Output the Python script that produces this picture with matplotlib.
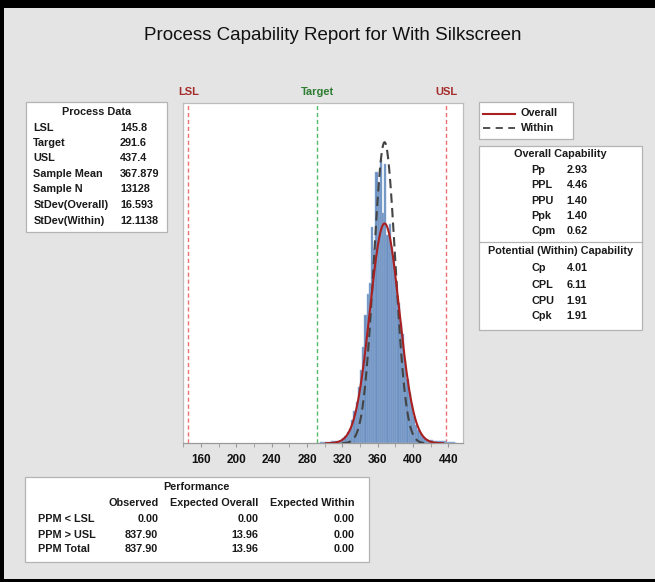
import numpy as np
import matplotlib
matplotlib.use("Agg")
import matplotlib.pyplot as plt
from matplotlib.patches import Rectangle
from matplotlib.lines import Line2D

# ---------------- data ----------------
title = "Process Capability Report for With Silkscreen"
LSL, TARGET, USL = 145.8, 291.6, 437.4
sample_mean = 367.879
sd_overall = 16.593
sd_within = 12.1138

process_labels = ["LSL", "Target", "USL", "Sample Mean", "Sample N", "StDev(Overall)", "StDev(Within)"]
process_values = ["145.8", "291.6", "437.4", "367.879", "13128", "16.593", "12.1138"]

overall_labels = ["Pp", "PPL", "PPU", "Ppk", "Cpm"]
overall_values = ["2.93", "4.46", "1.40", "1.40", "0.62"]
within_labels = ["Cp", "CPL", "CPU", "Cpk"]
within_values = ["4.01", "6.11", "1.91", "1.91"]

perf_columns = ["Observed", "Expected Overall", "Expected Within"]
perf_rows = ["PPM < LSL", "PPM > USL", "PPM Total"]
perf_observed = ["0.00", "837.90", "837.90"]
perf_exp_overall = ["0.00", "13.96", "13.96"]
perf_exp_within = ["0.00", "0.00", "0.00"]

# histogram (bin width 2.5, first edge 295) densities
bin_start = 295.0
bin_width = 2.5
bin_density = [
    0.0001, 0.0001, 0.0001, 0.0001, 0.0001, 0.0002, 0.0002, 0.0002,
    0.0003, 0.0004, 0.0006, 0.0008, 0.0012, 0.0016, 0.0025, 0.0035,
    0.0045, 0.0062, 0.0080, 0.0105, 0.0140, 0.0163, 0.0175, 0.0237,
    0.0212, 0.0297, 0.0285, 0.0310, 0.0252, 0.0305, 0.0228, 0.0240,
    0.0215, 0.0206, 0.0178, 0.0153, 0.0132, 0.0120, 0.0090, 0.0070,
    0.0055, 0.0042, 0.0030, 0.0020, 0.0014, 0.0011, 0.0008, 0.0006,
    0.0005, 0.0004, 0.0004, 0.0003, 0.0003, 0.0002, 0.0003, 0.0002,
    0.0002, 0.0001, 0.0001, 0.0001, 0.0001, 0.00005,
]
x_ticks = [160, 200, 240, 280, 320, 360, 400, 440]

# ---------------- layout ----------------
W, H = 655, 582
plt.rcParams['font.family'] = ['Liberation Sans', 'DejaVu Sans']
fig = plt.figure(figsize=(W / 100, H / 100), dpi=100, facecolor="#e4e4e4")

def fx(px):
    return px / W

def fy(py):
    return 1 - py / H

def ftext(px, py, s, **kw):
    kw.setdefault("fontsize", 7.8)
    kw.setdefault("va", "center")
    kw.setdefault("color", "#1a1a1a")
    kw.setdefault("fontweight", "bold")
    fig.text(fx(px), fy(py), s, **kw)

def fbox(x0, y0, x1, y1):
    fig.add_artist(Rectangle((fx(x0), fy(y1)), fx(x1) - fx(x0), fy(y0) - fy(y1),
                             transform=fig.transFigure, facecolor="white",
                             edgecolor="#b4b4b4", lw=0.9, zorder=1))

# black border bands
fig.add_artist(Rectangle((0, fy(8)), 1, 8 / H, transform=fig.transFigure, color="black", lw=0))
fig.add_artist(Rectangle((0, 0), 4 / W, 1, transform=fig.transFigure, color="black", lw=0))
fig.add_artist(Rectangle((0, 0), 1, 3 / H, transform=fig.transFigure, color="black", lw=0))

# title
ftext(333, 35, title, ha="center", fontsize=13.5, fontweight="normal", color="#111111")

# main axes
ax_l, ax_r, ax_t, ax_b = 183.3, 463.3, 102.7, 443.3
ax = fig.add_axes([fx(ax_l), fy(ax_b), fx(ax_r) - fx(ax_l), fy(ax_t) - fy(ax_b)])
ax.set_facecolor("white")
edges = bin_start + bin_width * np.arange(len(bin_density))
ax.bar(edges, bin_density, width=bin_width, align="edge",
       facecolor="#6a8fc2", edgecolor="#9fb6d6", linewidth=0.35, zorder=2)

xo = np.linspace(sample_mean - 4 * sd_overall, sample_mean + 4 * sd_overall, 400)
yo = np.exp(-0.5 * ((xo - sample_mean) / sd_overall) ** 2) / (sd_overall * np.sqrt(2 * np.pi))
xw = np.linspace(sample_mean - 4 * sd_within, sample_mean + 4 * sd_within, 400)
yw = np.exp(-0.5 * ((xw - sample_mean) / sd_within) ** 2) / (sd_within * np.sqrt(2 * np.pi))
ax.plot(xw, yw, color="#444444", lw=1.5, ls=(0, (4.5, 2.5)), zorder=3)
ax.plot(xo, yo, color="#a82020", lw=1.5, zorder=4)

ax.axvline(LSL, color="#ee7070", lw=1.0, ls=(0, (3, 2)), zorder=1)
ax.axvline(USL, color="#ee7070", lw=1.0, ls=(0, (3, 2)), zorder=1)
ax.axvline(TARGET, color="#55bb66", lw=1.0, ls=(0, (3, 2)), zorder=1)

ax.set_xlim(140.1, 457.0)
ax.set_ylim(0, 0.03725)
ax.set_yticks([])
ax.set_xticks(x_ticks)
ax.set_xticks(np.arange(140, 460, 20), minor=True)
ax.tick_params(axis="x", which="both", length=3, color="#999999", labelsize=8.5, pad=5, labelcolor="#111111")
for lbl in ax.get_xticklabels():
    lbl.set_fontweight("bold")
for sp in ax.spines.values():
    sp.set_color("#bdbdbd")
    sp.set_linewidth(0.9)
ax.spines["bottom"].set_color("#999999")

# spec labels above axes
for val, lab, col in [(LSL, "LSL", "#a52a2a"), (TARGET, "Target", "#2e7d32"), (USL, "USL", "#a52a2a")]:
    px = ax_l + (val - 140.1) / (457.0 - 140.1) * (ax_r - ax_l)
    ftext(px, 92, lab, ha="center", color=col, fontsize=8)

# Process data box
fbox(26, 101.7, 166.7, 231.7)
ftext(96.7, 111.7, "Process Data", ha="center")
rows_y = [127.7, 143.3, 157.7, 174, 189.3, 205, 221]
for yy, lab, val in zip(rows_y, process_labels, process_values):
    ftext(33.3, yy, lab)
    ftext(120, yy, val)

# legend box
fbox(479.3, 102.3, 572.7, 139.3)
fig.add_artist(Line2D([fx(483), fx(515)], [fy(114.3), fy(114.3)], transform=fig.transFigure,
                      color="#a82020", lw=1.5))
fig.add_artist(Line2D([fx(483), fx(515)], [fy(128.3), fy(128.3)], transform=fig.transFigure,
                      color="#444444", lw=1.3, ls=(0, (4, 3))))
ftext(520.7, 113, "Overall")
ftext(520.7, 128, "Within")

# capability box
fbox(479.3, 145.7, 641.7, 330)
fig.add_artist(Line2D([fx(479.3), fx(641.7)], [fy(241.7), fy(241.7)], transform=fig.transFigure,
                      color="#b4b4b4", lw=0.9))
ftext(560, 154.3, "Overall Capability", ha="center")
for yy, lab, val in zip([170, 185.5, 201, 215.7, 231], overall_labels, overall_values):
    ftext(531.7, yy, lab)
    ftext(566.7, yy, val)
ftext(560, 251.5, "Potential (Within) Capability", ha="center")
for yy, lab, val in zip([268.3, 285.5, 301, 316.3], within_labels, within_values):
    ftext(531.7, yy, lab)
    ftext(566.7, yy, val)

# performance box
fbox(25, 477.3, 369.3, 561.5)
ftext(196.7, 486.7, "Performance", ha="center")
col_right = [158.3, 258.3, 355]
for cx, cname in zip(col_right, perf_columns):
    ftext(cx, 503.3, cname, ha="right")
for yy, rlab, o, eo, ew in zip([519.5, 535, 549.5], perf_rows, perf_observed, perf_exp_overall, perf_exp_within):
    ftext(38.3, yy, rlab)
    for cx, v in zip(col_right, [o, eo, ew]):
        ftext(cx, yy, v, ha="right")

fig.savefig("out.png", dpi=100, facecolor=fig.get_facecolor())
